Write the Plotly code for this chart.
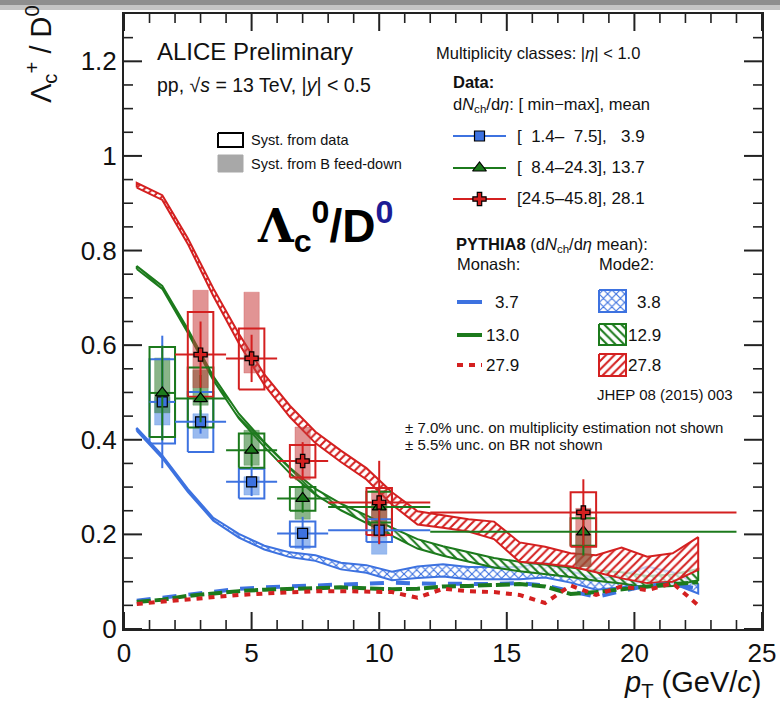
import plotly.graph_objects as go

# ---------------- data ----------------
pt_blue = [1.5, 3.0, 5.0, 7.0, 10.0]
ex_blue = [0.5, 1.0, 1.0, 1.0, 2.0]
y_blue = [0.480, 0.438, 0.311, 0.202, 0.209]
stat_blue = [0.14, 0.025, 0.03, 0.035, 0.03]
syst_lo_blue = [0.392, 0.374, 0.276, 0.174, 0.184]
syst_hi_blue = [0.570, 0.501, 0.339, 0.227, 0.232]
bfd_lo_blue = [0.431, 0.403, 0.283, 0.170, 0.158]
bfd_hi_blue = [0.490, 0.455, 0.322, 0.216, 0.195]

pt_green = [1.5, 3.0, 5.0, 7.0, 10.0, 18.0]
ex_green = [0.5, 1.0, 1.0, 1.0, 2.0, 6.0]
y_green = [0.499, 0.487, 0.378, 0.276, 0.258, 0.2055]
stat_green = [0.10, 0.05, 0.035, 0.03, 0.04, 0.05]
syst_lo_green = [0.406, 0.426, 0.341, 0.250, 0.225, 0.176]
syst_hi_green = [0.596, 0.553, 0.413, 0.300, 0.290, 0.234]
bfd_lo_green = [0.457, 0.473, 0.346, 0.232, 0.200, 0.132]
bfd_hi_green = [0.573, 0.547, 0.420, 0.300, 0.265, 0.200]

pt_red = [3.0, 5.0, 7.0, 10.0, 18.0]
ex_red = [1.0, 1.0, 1.0, 2.0, 6.0]
y_red = [0.580, 0.572, 0.355, 0.2675, 0.2465]
stat_red = [0.07, 0.05, 0.04, 0.088, 0.07]
syst_lo_red = [0.491, 0.506, 0.320, 0.1985, 0.174]
syst_hi_red = [0.670, 0.635, 0.389, 0.298, 0.289]
bfd_lo_red = [0.510, 0.541, 0.315, 0.195, 0.132]
bfd_hi_red = [0.716, 0.712, 0.427, 0.293, 0.255]

# PYTHIA8 model grid
pt_model = [0.5, 1.5, 2.5, 3.5, 4.5, 5.5, 6.5, 7.5, 8.5, 9.5, 10.5, 11.5,
            12.5, 13.5, 14.5, 15.5, 16.5, 17.5, 18.5, 19.5, 20.5, 21.5, 22.5]

# Mode2 bands
mode2_blue_lo = [0.419, 0.361, 0.290, 0.229, 0.193, 0.168, 0.152, 0.144, 0.126, 0.119,
                 0.103, 0.108, 0.111, 0.105, 0.105, 0.105, 0.109, 0.098, 0.083, 0.088,
                 0.104, 0.096, 0.075]
mode2_blue_hi = [0.425, 0.367, 0.296, 0.235, 0.201, 0.176, 0.162, 0.156, 0.140, 0.135,
                 0.121, 0.132, 0.137, 0.131, 0.131, 0.131, 0.141, 0.122, 0.107, 0.112,
                 0.132, 0.120, 0.095]
mode2_green_lo = [0.761, 0.719, 0.626, 0.526, 0.445, 0.385, 0.329, 0.284, 0.251, 0.224,
                  0.196, 0.170, 0.155, 0.142, 0.130, 0.122, 0.116, 0.110, 0.102, 0.096,
                  0.088, 0.091, 0.103]
mode2_green_hi = [0.767, 0.725, 0.634, 0.534, 0.455, 0.395, 0.341, 0.296, 0.265, 0.240,
                  0.214, 0.190, 0.175, 0.162, 0.150, 0.142, 0.136, 0.130, 0.124, 0.120,
                  0.112, 0.115, 0.127]
mode2_red_lo = [0.933, 0.907, 0.814, 0.704, 0.604, 0.516, 0.448, 0.393, 0.353, 0.316,
                0.263, 0.221, 0.214, 0.206, 0.190, 0.142, 0.138, 0.132, 0.120, 0.107,
                0.097, 0.100, 0.125]
mode2_red_hi = [0.943, 0.917, 0.826, 0.720, 0.624, 0.538, 0.472, 0.417, 0.377, 0.340,
                0.289, 0.249, 0.240, 0.232, 0.227, 0.183, 0.174, 0.160, 0.156, 0.172,
                0.153, 0.160, 0.194]

# Monash curves
monash_blue = [0.060, 0.066, 0.074, 0.080, 0.085, 0.088, 0.090, 0.093, 0.095, 0.097, 0.098,
               0.096, 0.095, 0.094, 0.095, 0.097, 0.092, 0.080, 0.068, 0.080, 0.092, 0.095, 0.085]
monash_green = [0.057, 0.062, 0.070, 0.076, 0.080, 0.083, 0.085, 0.087, 0.088, 0.086, 0.084,
                0.085, 0.090, 0.091, 0.092, 0.095, 0.090, 0.074, 0.078, 0.085, 0.090, 0.095, 0.099]
monash_red = [0.053, 0.058, 0.064, 0.068, 0.072, 0.075, 0.078, 0.080, 0.080, 0.080, 0.078,
              0.066, 0.085, 0.080, 0.078, 0.072, 0.055, 0.092, 0.072, 0.090, 0.082, 0.097, 0.050]

# axis ticks
x_major = [0, 5, 10, 15, 20, 25]
x_minor = [1, 2, 3, 4, 6, 7, 8, 9, 11, 12, 13, 14, 16, 17, 18, 19, 21, 22, 23, 24]
y_major = [0, 0.2, 0.4, 0.6, 0.8, 1.0, 1.2]
y_minor = [0.05, 0.1, 0.15, 0.25, 0.3, 0.35, 0.45, 0.5, 0.55, 0.65, 0.7, 0.75,
           0.85, 0.9, 0.95, 1.05, 1.1, 1.15, 1.25]

# ---------------- style ----------------
BLUE = "#3d72e0"
GREEN = "#1c7a1c"
RED = "#d42020"
FONT = "Liberation Sans"
AX = "#222222"
TXT = "#111111"
XMAX, YMAX = 25, 1.3

def ax(px):
    return (px - 124) / (638 / 25)

def ay(py):
    return (629 - py) / (615 / 1.3)

def px_paper(px):
    return (px - 124) / 638

def py_paper(py):
    return (629 - py) / 615


def boxes(xc, lo, hi, hw):
    xs, ys = [], []
    for x, l, h in zip(xc, lo, hi):
        xs += [x - hw, x + hw, x + hw, x - hw, x - hw, None]
        ys += [l, l, h, h, l, None]
    return xs, ys


def band(x, lo, hi):
    return list(x) + list(reversed(x)) + [x[0]], list(lo) + list(reversed(hi)) + [lo[0]]


fig = go.Figure()

for lo, hi, col, pat in [(mode2_blue_lo, mode2_blue_hi, BLUE, "x"),
                         (mode2_green_lo, mode2_green_hi, GREEN, "\\"),
                         (mode2_red_lo, mode2_red_hi, RED, "/")]:
    bx, by = band(pt_model, lo, hi)
    fig.add_trace(go.Scatter(x=bx, y=by, mode="lines", fill="toself",
                             fillcolor="rgba(255,255,255,0)",
                             fillpattern=dict(shape=pat, fgcolor=col, bgcolor="rgba(255,255,255,0.7)",
                                              size=6, solidity=0.35),
                             line=dict(color=col, width=2), showlegend=False, hoverinfo="skip"))

fig.add_trace(go.Scatter(x=pt_model, y=monash_blue, mode="lines",
                         line=dict(color=BLUE, width=4, dash="14px,12px"), showlegend=False))
fig.add_trace(go.Scatter(x=pt_model, y=monash_green, mode="lines",
                         line=dict(color=GREEN, width=4, dash="14px,4px"), showlegend=False))
fig.add_trace(go.Scatter(x=pt_model, y=monash_red, mode="lines",
                         line=dict(color=RED, width=4, dash="6px,6px"), showlegend=False))

series = [
    (pt_blue, ex_blue, y_blue, stat_blue, syst_lo_blue, syst_hi_blue, bfd_lo_blue, bfd_hi_blue,
     BLUE, "rgba(70,130,225,0.55)", "square", 10),
    (pt_green, ex_green, y_green, stat_green, syst_lo_green, syst_hi_green, bfd_lo_green, bfd_hi_green,
     GREEN, "rgba(40,120,40,0.55)", "triangle-up", 12),
    (pt_red, ex_red, y_red, stat_red, syst_lo_red, syst_hi_red, bfd_lo_red, bfd_hi_red,
     RED, "rgba(200,60,60,0.55)", "cross", 11),
]

for s in series:
    bx, by = boxes(s[0], s[6], s[7], 0.3)
    fig.add_trace(go.Scatter(x=bx, y=by, mode="lines", fill="toself", fillcolor=s[9],
                             line=dict(color=s[9], width=0.5), showlegend=False, hoverinfo="skip"))
for s in series:
    bx, by = boxes(s[0], s[4], s[5], 0.5)
    fig.add_trace(go.Scatter(x=bx, y=by, mode="lines", line=dict(color=s[8], width=2),
                             showlegend=False, hoverinfo="skip"))
for s in series:
    fig.add_trace(go.Scatter(x=s[0], y=s[2], mode="markers",
                             error_x=dict(type="data", array=s[1], width=0, thickness=2, color=s[8]),
                             error_y=dict(type="data", array=s[3], width=0, thickness=2, color=s[8]),
                             marker=dict(symbol=s[10], size=s[11], color=s[8],
                                         line=dict(color="black", width=1.2)),
                             showlegend=False))

# ---------------- inside ticks on all four sides (layout shapes in data coordinates) ----------------
shapes = []
def add_ticks(xt, yt, xlen_px, ylen_px, width):
    lx = ax(124 + xlen_px)
    ly = ay(629 - ylen_px)
    st = dict(type="line", xref="x", yref="y", line=dict(color=AX, width=width), layer="above")
    for v in xt:
        shapes.append(dict(x0=v, x1=v, y0=0, y1=ly, **st))
        shapes.append(dict(x0=v, x1=v, y0=YMAX, y1=YMAX - ly, **st))
    for v in yt:
        shapes.append(dict(x0=0, x1=lx, y0=v, y1=v, **st))
        shapes.append(dict(x0=XMAX, x1=XMAX - lx, y0=v, y1=v, **st))

add_ticks(x_major, y_major, 18, 17, 2)
add_ticks(x_minor, y_minor, 9, 9, 1.6)

# ---------------- legend decorations ----------------
def seg(x0, x1, y, col, width, dash=None):
    fig.add_trace(go.Scatter(x=[ax(x0), ax(x1)], y=[ay(y), ay(y)], mode="lines",
                             line=dict(color=col, width=width, dash=dash),
                             showlegend=False, hoverinfo="skip"))

def rect(x0, x1, y0, y1, col, fillcolor=None, pattern=None, width=2):
    xs = [ax(x0), ax(x1), ax(x1), ax(x0), ax(x0)]
    ys = [ay(y0), ay(y0), ay(y1), ay(y1), ay(y0)]
    kw = {}
    if fillcolor is not None or pattern is not None:
        kw["fill"] = "toself"
        kw["fillcolor"] = fillcolor if fillcolor else "rgba(255,255,255,0)"
    if pattern is not None:
        kw["fillpattern"] = dict(shape=pattern, fgcolor=col, bgcolor="white", size=6, solidity=0.35)
    fig.add_trace(go.Scatter(x=xs, y=ys, mode="lines", line=dict(color=col, width=width),
                             showlegend=False, hoverinfo="skip", **kw))

rect(218, 243, 133, 147, "black", width=2)
rect(218, 243, 155, 172, "#a8a8a8", fillcolor="#a8a8a8", width=1)

for yy, s in zip([136, 168, 199], series):
    seg(453, 506, yy, s[8], 2)
    fig.add_trace(go.Scatter(x=[ax(479.5)], y=[ay(yy)], mode="markers",
                             marker=dict(symbol=s[10], size=s[11], color=s[8],
                                         line=dict(color="black", width=1.2)),
                             showlegend=False, hoverinfo="skip"))
seg(457, 482, 302, BLUE, 4)
seg(457, 482, 335, GREEN, 4)
seg(457, 482, 365, RED, 4, "6px,6px")
rect(599, 626, 290, 312, BLUE, pattern="x")
rect(599, 626, 324, 345, GREEN, pattern="\\")
rect(599, 626, 354, 376, RED, pattern="/")

annotations = []

def txt(x, y, text, size, anchor="left", color=TXT, **kw):
    annotations.append(dict(x=px_paper(x), y=py_paper(y), xref="paper", yref="paper", text=text,
                            showarrow=False, xanchor=anchor, yanchor="middle",
                            font=dict(family=FONT, size=size, color=color), **kw))

txt(155, 52, "ALICE Preliminary", 24)
txt(155, 85, "pp, √<i>s</i> = 13 TeV, |<i>y</i>| &lt; 0.5", 19.5)
txt(249, 140, "Syst. from data", 14.5)
txt(249, 164, "Syst. from B feed-down", 14.5)
txt(434, 53, "Multiplicity classes: |<i>η</i>| &lt; 1.0", 16.5)
txt(451, 82, "<b>Data:</b>", 16.5)
txt(451, 105, "d<i>N</i><sub>ch</sub>/d<i>η</i>: [ min\u2212max], mean", 16.5)
txt(515, 136, "[\u00a0\u00a01.4\u2013\u00a0\u00a07.5],\u00a0\u00a0\u00a03.9", 17)
txt(515, 168, "[\u00a0\u00a08.4\u201324.3], 13.7", 17)
txt(515, 199, "[24.5\u201345.8], 28.1", 17)
txt(454, 245, "<b>PYTHIA8</b> (d<i>N</i><sub>ch</sub>/d<i>η</i> mean):", 16.5)
txt(455, 264, "Monash:", 16.5)
txt(597, 264, "Mode2:", 16.5)
txt(521, 302, "3.7", 17, anchor="right")
txt(521, 335, "13.0", 17, anchor="right")
txt(521, 365, "27.9", 17, anchor="right")
txt(663, 302, "3.8", 17, anchor="right")
txt(663, 335, "12.9", 17, anchor="right")
txt(663, 365, "27.8", 17, anchor="right")
txt(595, 394, "JHEP 08 (2015) 003", 15)
txt(403, 427, "± 7.0% unc. on multiplicity estimation not shown", 15)
txt(403, 444, "± 5.5% unc. on BR not shown", 15)

annotations.append(dict(x=px_paper(255), y=py_paper(226), xref="paper", yref="paper", showarrow=False,
                        xanchor="left", yanchor="middle",
                        text='<b><span style="font-family:\'DejaVu Serif\',serif">Λ</span><sub>c</sub><sup>0</sup>/D'
                             '<sup><span style="color:#1c1c96">0</span></sup></b>',
                        font=dict(family=FONT, size=46, color="black")))

annotations.append(dict(x=px_paper(764), y=py_paper(684), xref="paper", yref="paper", showarrow=False,
                        xanchor="right", yanchor="middle",
                        text="<i>p</i><sub>T</sub> (GeV/<i>c</i>)",
                        font=dict(family=FONT, size=29, color=TXT)))
annotations.append(dict(x=px_paper(41), y=py_paper(3), xref="paper", yref="paper", showarrow=False,
                        xanchor="center", yanchor="top", textangle=-90,
                        text="Λ<sub>c</sub><sup>+</sup> / D<sup>0</sup>",
                        font=dict(family=FONT, size=29, color=TXT)))

shapes += [
    dict(type="rect", xref="paper", yref="paper", x0=px_paper(0), x1=px_paper(780),
         y0=py_paper(5), y1=py_paper(0), fillcolor="#8e8e8e", line=dict(width=0), layer="above"),
    dict(type="rect", xref="paper", yref="paper", x0=px_paper(0), x1=px_paper(780),
         y0=py_paper(10), y1=py_paper(5), fillcolor="#c4c4c4", line=dict(width=0), layer="above"),
]

common = dict(showgrid=False, zeroline=False, showline=True, linecolor=AX, linewidth=2,
              mirror=True, ticks="", automargin=False)

fig.update_layout(
    template="none",
    width=780, height=711,
    margin=dict(l=124, r=18, t=14, b=82, autoexpand=False),
    paper_bgcolor="white", plot_bgcolor="white",
    annotations=annotations, shapes=shapes,
    showlegend=False,
    xaxis=dict(range=[0, XMAX], tickvals=x_major, ticktext=[str(v) for v in x_major],
               tickfont=dict(family=FONT, size=26, color=TXT), **common),
    yaxis=dict(range=[0, YMAX], tickvals=y_major, ticktext=["0", "0.2", "0.4", "0.6", "0.8", "1", "1.2"],
               tickfont=dict(family=FONT, size=26, color=TXT), **common),
)

fig.write_html("out.html", config={"displayModeBar": False},
               post_script="document.body.style.margin='0';document.body.style.overflow='hidden';")
